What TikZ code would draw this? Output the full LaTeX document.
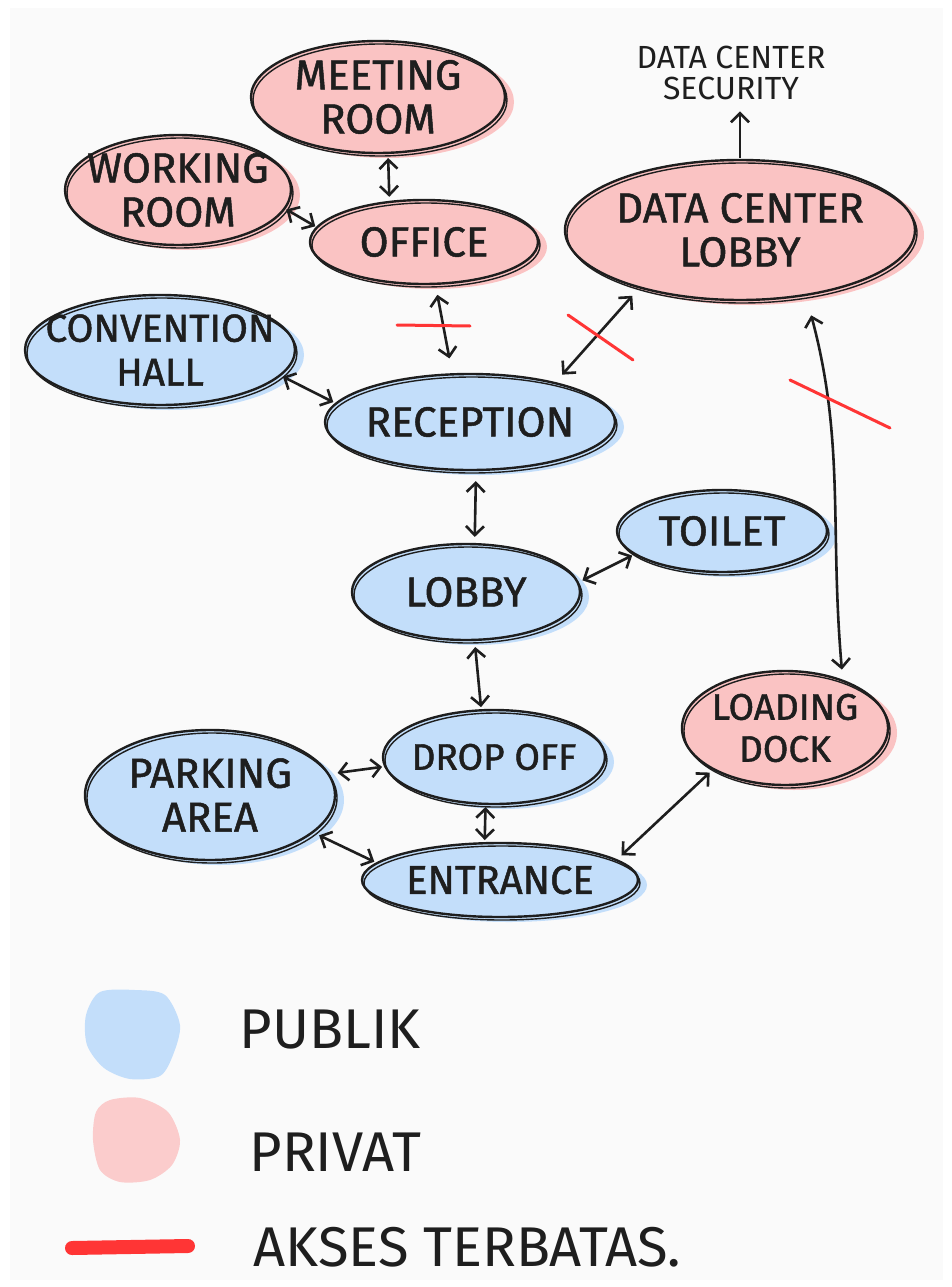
\documentclass[tikz,border=0pt]{standalone}
\usepackage{fontspec}
\setmainfont{Fira Sans}
\newfontfamily\hand[FakeBold=1.2]{Fira Sans}
\usetikzlibrary{shapes.geometric,arrows.meta}

\definecolor{pubfill}{HTML}{C3DEFA}
\definecolor{privfill}{HTML}{FAC3C3}
\definecolor{ink}{HTML}{1E1E1E}
\definecolor{cut}{HTML}{FF3535}
\definecolor{paper}{HTML}{FAFAFA}

\tikzset{
  room/.style={ellipse, draw=ink, line width=2.4pt, inner xsep=-80pt, inner ysep=-30pt, align=center,
    text=ink, font=\hand\fontsize{42}{44}\selectfont,
    postaction={draw=ink, line width=1.4pt, transform canvas={shift={(2pt,-3pt)}}}},
  pub/.style={room, fill=pubfill, preaction={fill=pubfill, transform canvas={shift={(9pt,-5pt)}}}},
  priv/.style={room, fill=privfill, preaction={fill=privfill, transform canvas={shift={(9pt,-5pt)}}}},
  link/.style={{Straight Barb[length=9pt,width=18pt]}-{Straight Barb[length=9pt,width=18pt]},
    draw=ink, line width=2.6pt, shorten <=4pt, shorten >=4pt},
  cross/.style={draw=cut, line width=3pt, line cap=round},
  legend/.style={anchor=west, text=ink, font=\fontsize{56}{60}\selectfont},
}

\begin{document}
\begin{tikzpicture}[x=1pt,y=-1pt]
\useasboundingbox (0,0) rectangle (951,1287);
\fill[white] (0,0) rectangle (951,1287);
\fill[paper] (10,8) rectangle (943,1280);

\node[priv, minimum width=254, minimum height=112](meet) at (378,97){MEETING\\ROOM};
\node[priv, minimum width=226, minimum height=110](work) at (178,190){WORKING\\ROOM};
\node[priv, minimum width=228, minimum height=84](off) at (424,242){OFFICE};
\node[priv, minimum width=350, minimum height=140](dcl) at (740,230){DATA CENTER\\LOBBY};
\node[text=ink, align=center, font=\fontsize{32}{31}\selectfont](sec) at (731,73){DATA CENTER\\SECURITY};
\node[pub, minimum width=270, minimum height=110, font=\hand\fontsize{39}{44}\selectfont](conv) at (160,350){CONVENTION\\HALL};
\node[pub, minimum width=290, minimum height=96](rec) at (470,422){RECEPTION};
\node[pub, minimum width=210, minimum height=82](toi) at (722,531){TOILET};
\node[pub, minimum width=228, minimum height=96](lob) at (466,592){LOBBY};
\node[pub, minimum width=222, minimum height=94, font=\hand\fontsize{37}{40}\selectfont](drop) at (494,757){DROP OFF};
\node[pub, minimum width=250, minimum height=130](park) at (210,795){PARKING\\AREA};
\node[priv, minimum width=206, minimum height=114, font=\hand\fontsize{37}{42}\selectfont](load) at (785,728){LOADING\\DOCK};
\node[pub, minimum width=276, minimum height=74, font=\hand\fontsize{40}{44}\selectfont](ent) at (500,880){ENTRANCE};

\draw[link] (meet.-80) -- (off.130);
\draw[link, shorten <=1pt, shorten >=1pt] (work.-10) -- (off.172);
\draw[link, shorten <=10pt, shorten >=15pt] (off.-75) -- (rec.110);
\draw[link, shorten <=10pt, shorten >=10pt] (rec.25) -- (dcl.210);
\draw[-{Straight Barb[length=9pt,width=18pt]}, draw=ink, line width=2.6pt, shorten <=1pt, shorten >=8pt] (dcl.north) -- (dcl.north |- sec.south);
\draw[link, shorten <=20pt, shorten >=10pt] (dcl.-45) to[out=-75,in=95] (load.40);
\draw[link, shorten <=2pt, shorten >=2pt] (conv.-12) -- (rec.172);
\draw[link, shorten <=10pt, shorten >=6pt] (rec.-83) -- (lob.80);
\draw[link, shorten <=4pt, shorten >=2pt] (lob.5) -- (toi.195);
\draw[link, shorten <=6pt, shorten >=2pt] (lob.-80) -- (drop.105);
\draw[link, shorten <=8pt, shorten >=2pt] (park.10) -- (drop.185);
\draw[link, shorten <=2pt, shorten >=2pt] (drop.-100) -- (ent.112);
\draw[link, shorten <=6pt, shorten >=2pt] (park.-20) -- (ent.172);
\draw[link, shorten <=6pt, shorten >=4pt] (ent.10) -- (load.210);

\draw[cross] (397,325) -- (470,326);
\draw[cross] (568,315) -- (633,360);
\draw[cross] (790,380) -- (890,428);

\fill[pubfill] plot[smooth cycle] coordinates {(100,992) (135,990) (165,995) (180,1025) (173,1055) (160,1076) (130,1079) (104,1068) (87,1045) (86,1015)};
\node[legend](publik) at (236,1030){PUBLIK};
\fill[privfill!85!white] plot[smooth cycle] coordinates {(110,1100) (140,1098) (168,1112) (180,1140) (172,1165) (150,1180) (120,1182) (100,1170) (93,1140) (96,1112)};
\node[legend](privat) at (246,1152){PRIVAT};
\draw[cut, line width=14pt, line cap=round] (72,1248) -- (188,1246);
\node[legend](akses) at (250,1247){AKSES TERBATAS.};
\end{tikzpicture}
\end{document}
